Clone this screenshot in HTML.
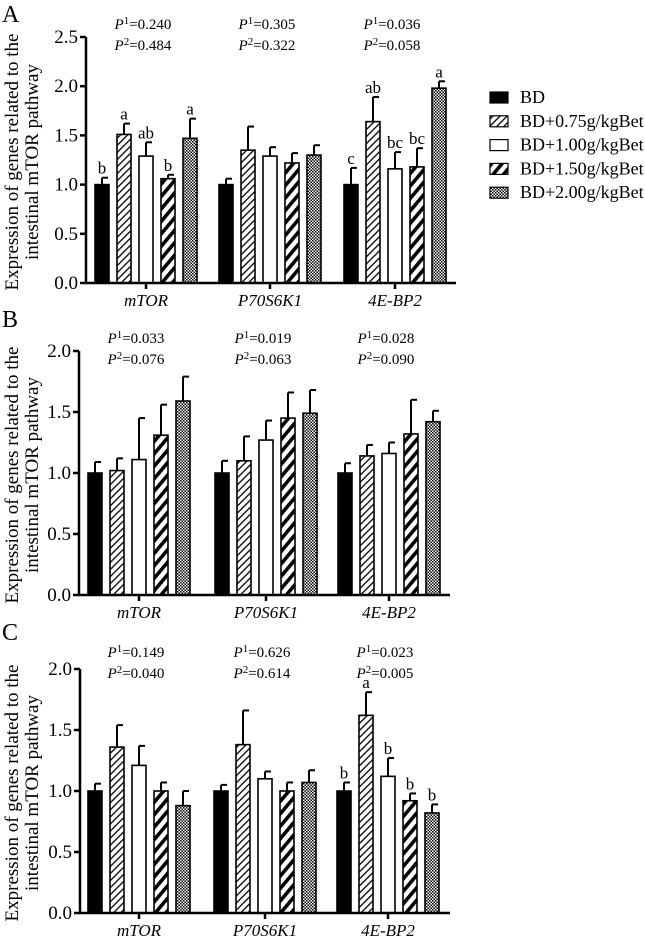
<!DOCTYPE html>
<html><head><meta charset="utf-8">
<style>
html,body{margin:0;padding:0;background:#fff;}
svg{display:block;font-family:"Liberation Serif",serif;}
</style></head>
<body>
<svg id="fig" width="645" height="939" viewBox="0 0 645 939">
<defs>
<pattern id="hLight" patternUnits="userSpaceOnUse" width="5" height="5" patternTransform="rotate(45)"><rect width="5" height="5" fill="#fff"/><rect width="1.3" height="5" fill="#000"/></pattern>
<pattern id="hBold" patternUnits="userSpaceOnUse" width="8" height="8" patternTransform="rotate(40)"><rect width="8" height="8" fill="#fff"/><rect width="3.6" height="8" fill="#000"/></pattern>
<pattern id="chk" patternUnits="userSpaceOnUse" width="3" height="3"><rect width="3" height="3" fill="#fff"/><rect width="1.5" height="1.5" fill="#000"/><rect x="1.5" y="1.5" width="1.5" height="1.5" fill="#000"/></pattern>
</defs>
</svg>
<script>
const genes = ["mTOR","P70S6K1","4E-BP2"];
const groups = ["BD","BD+0.75g/kgBet","BD+1.00g/kgBet","BD+1.50g/kgBet","BD+2.00g/kgBet"];
const fills = ["#000","url(#hLight)","#fff","url(#hBold)","url(#chk)"];
const meanA = [[1.0,1.51,1.29,1.06,1.47],[1.0,1.35,1.29,1.22,1.30],[1.0,1.64,1.16,1.18,1.98]];
const errA  = [[0.07,0.11,0.14,0.04,0.20],[0.06,0.24,0.09,0.10,0.10],[0.17,0.25,0.17,0.19,0.07]];
const letA  = [["b","a","ab","b","a"],["","","","",""],["c","ab","bc","bc","a"]];
const p1A = ["0.240","0.305","0.036"];
const p2A = ["0.484","0.322","0.058"];
const meanB = [[1.0,1.02,1.11,1.31,1.59],[1.0,1.10,1.27,1.45,1.49],[1.0,1.14,1.16,1.32,1.42]];
const errB  = [[0.09,0.10,0.34,0.25,0.20],[0.10,0.20,0.16,0.21,0.19],[0.08,0.09,0.09,0.28,0.09]];
const letB  = [["","","","",""],["","","","",""],["","","","",""]];
const p1B = ["0.033","0.019","0.028"];
const p2B = ["0.076","0.063","0.090"];
const meanC = [[1.0,1.36,1.21,1.0,0.88],[1.0,1.38,1.10,1.0,1.07],[1.0,1.62,1.12,0.92,0.82]];
const errC  = [[0.06,0.18,0.16,0.07,0.12],[0.05,0.28,0.06,0.07,0.10],[0.07,0.19,0.15,0.06,0.07]];
const letC  = [["","","","",""],["","","","",""],["b","a","b","b","b"]];
const p1C = ["0.149","0.626","0.023"];
const p2C = ["0.040","0.614","0.005"];
const ticksA = ["0.0","0.5","1.0","1.5","2.0","2.5"];
const ticksBC = ["0.0","0.5","1.0","1.5","2.0"];

const svg = document.getElementById('fig');
const NS = "http://www.w3.org/2000/svg";
function mk(tag, attrs, parent){const e=document.createElementNS(NS,tag);for(const k in attrs)e.setAttribute(k,attrs[k]);(parent||svg).appendChild(e);return e;}

function panel(cfg){
  const g = mk('g',{});
  
  
  const vmax = parseFloat(cfg.ticks[cfg.ticks.length-1]);
  const Y = v => cfg.y0 - (v/vmax)*(cfg.y0-cfg.yTop);
  const X = (gi,bi) => cfg.gx[gi] + (bi-2)*22;
  const L = mk('text',{x:2,y:cfg.letterY,'font-size':24},g); L.textContent=cfg.id;
  
  
  const cy=(cfg.y0+cfg.yTop)/2+2;
  const t=mk('text',{transform:`translate(18,${cy}) rotate(-90)`,'text-anchor':'middle','font-size':19},g);
  
  
  const s1=mk('tspan',{x:0,y:0},t); s1.textContent="Expression of genes related to the";
  const s2=mk('tspan',{x:0,y:20},t); s2.textContent="intestinal mTOR pathway";
  for(let gi=0;gi<3;gi++){
    for(let bi=0;bi<5;bi++){
      const v=cfg.mean[gi][bi], e=cfg.err[gi][bi];
      const cx=X(gi,bi);
      const top=Y(v+e);
      const el=mk('line',{x1:cx,x2:cx,y1:Y(v),y2:top,stroke:'#000','stroke-width':2},g);
      
      
      mk('line',{x1:cx,x2:cx+6,y1:top,y2:top,stroke:'#000','stroke-width':2},g);
      const r=mk('rect',{x:cx-7,y:Y(v),width:14,height:cfg.y0-Y(v),fill:fills[bi],stroke:'#000','stroke-width':1.6},g);
      
      
      const lt=cfg.let[gi][bi];
      if(lt){const tx=mk('text',{x:cx,y:top-4,'text-anchor':'middle','font-size':17},g);tx.textContent=lt;
        
        }
    }
    mk('line',{x1:cfg.gx[gi],x2:cfg.gx[gi],y1:cfg.y0,y2:cfg.y0+6,stroke:'#000','stroke-width':2.5},g);
    const gl=mk('text',{x:cfg.gx[gi],y:cfg.y0+23,'text-anchor':'middle','font-size':17,'font-style':'italic'},g);
    gl.textContent=genes[gi];
    
    
    for(const [row,arr,yy] of [[1,cfg.p1,cfg.pY],[2,cfg.p2,cfg.pY+21]]){
      const pt=mk('text',{x:cfg.gx[gi]-3,y:yy,'text-anchor':'middle','font-size':15},g);
      
      
      const a=mk('tspan',{'font-style':'italic'},pt);a.textContent='P';
      const b=mk('tspan',{dy:-5,'font-size':11},pt);b.textContent=row;
      const c=mk('tspan',{dy:5},pt);c.textContent='='+arr[gi];
    }
  }
  const ya=mk('line',{x1:cfg.ax,x2:cfg.ax,y1:cfg.yTop,y2:cfg.y0+1,stroke:'#000','stroke-width':2.5},g);
  
  const xa=mk('line',{x1:cfg.ax-1,x2:cfg.xEnd,y1:cfg.y0,y2:cfg.y0,stroke:'#000','stroke-width':2.5},g);
  
  cfg.ticks.forEach(tk=>{
    const yy=Y(parseFloat(tk));
    mk('line',{x1:cfg.ax-6,x2:cfg.ax,y1:yy,y2:yy,stroke:'#000','stroke-width':2.5},g);
    const tl=mk('text',{x:cfg.ax-8,y:yy+6,'text-anchor':'end','font-size':19},g);tl.textContent=tk;
    
    
  });
}
panel({id:'A',mean:meanA,err:errA,let:letA,p1:p1A,p2:p2A,ticks:ticksA,ax:86,y0:283,yTop:37,gx:[146,270,395],xEnd:456,pY:29,letterY:22});
panel({id:'B',mean:meanB,err:errB,let:letB,p1:p1B,p2:p2B,ticks:ticksBC,ax:79,y0:595,yTop:351,gx:[139,266,389],xEnd:450,pY:343,letterY:327});
panel({id:'C',mean:meanC,err:errC,let:letC,p1:p1C,p2:p2C,ticks:ticksBC,ax:80,y0:913,yTop:669,gx:[139,265,388],xEnd:450,pY:657,letterY:640});
const lg=mk('g',{});


groups.forEach((nm,i)=>{
  const y=97+i*23.8;
  const r=mk('rect',{x:490,y:y-5,width:18,height:11,fill:fills[i],stroke:'#000','stroke-width':1.2},lg);
  
  
  const t=mk('text',{x:520,y:y+6,'font-size':18},lg);t.textContent=nm;
  
  
});
</script>
</body></html>
